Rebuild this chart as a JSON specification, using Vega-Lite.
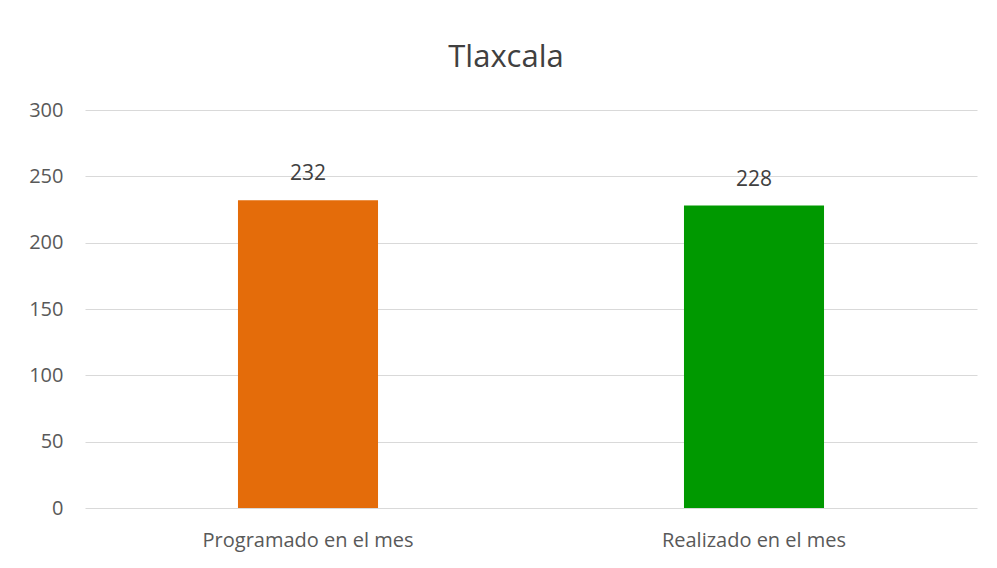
{
  "$schema": "https://vega.github.io/schema/vega-lite/v6.json",
  "width": 892,
  "height": 398,
  "autosize": {"type": "none"},
  "padding": {"left": 85, "top": 110, "right": 20, "bottom": 60},
  "background": "white",
  "title": {
    "text": "Tlaxcala",
    "font": "Open Sans",
    "fontSize": 31,
    "fontWeight": "normal",
    "color": "#404040",
    "baseline": "alphabetic",
    "offset": 2,
    "dx": -25,
    "anchor": "middle"
  },
  "data": {
    "values": [
      {"categoria": "Programado en el mes", "valor": 232},
      {"categoria": "Realizado en el mes", "valor": 228}
    ]
  },
  "encoding": {
    "x": {
      "field": "categoria",
      "type": "nominal",
      "sort": null,
      "scale": {"paddingInner": 0.686, "paddingOuter": 0.343},
      "axis": {
        "title": null,
        "labelAngle": 0,
        "ticks": false,
        "domain": false,
        "labelFont": "Open Sans",
        "labelFontSize": 20,
        "labelColor": "#595959",
        "labelPadding": 22,
        "labelLimit": 0
      }
    },
    "y": {
      "field": "valor",
      "type": "quantitative",
      "scale": {"domain": [0, 300]},
      "axis": {
        "title": null,
        "values": [0, 50, 100, 150, 200, 250, 300],
        "grid": true,
        "gridColor": "#d9d9d9",
        "gridWidth": 1,
        "domain": false,
        "ticks": false,
        "labelFont": "Open Sans",
        "labelFontSize": 20,
        "labelColor": "#595959",
        "labelPadding": 22
      }
    }
  },
  "layer": [
    {
      "mark": {"type": "bar"},
      "encoding": {
        "color": {
          "field": "categoria",
          "type": "nominal",
          "scale": {"domain": ["Programado en el mes", "Realizado en el mes"], "range": ["#E46C0A", "#009900"]},
          "legend": null
        }
      }
    },
    {
      "mark": {"type": "text", "baseline": "alphabetic", "dy": -20, "font": "Open Sans", "fontSize": 21, "color": "#404040"},
      "encoding": {"text": {"field": "valor", "type": "quantitative"}}
    }
  ],
  "config": {"view": {"stroke": null}}
}
